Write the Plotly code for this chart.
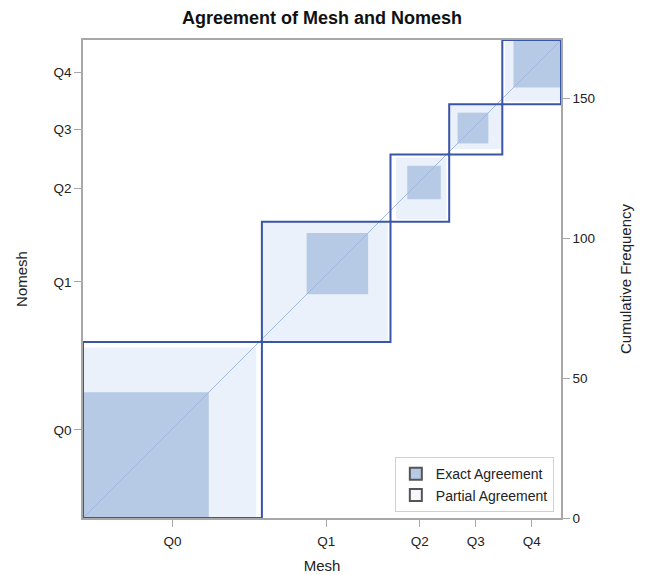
import plotly.graph_objects as go

categories = ["Q0", "Q1", "Q2", "Q3", "Q4"]
# Contingency table: rows = Nomesh category, columns = Mesh category
nomesh_Q0 = [45, 16, 2, 0, 0]
nomesh_Q1 = [17, 22, 4, 0, 0]
nomesh_Q2 = [1, 7, 12, 3, 1]
nomesh_Q3 = [1, 1, 2, 11, 3]
nomesh_Q4 = [0, 0, 1, 5, 17]
freq_ticks = [0, 50, 100, 150]

table = [nomesh_Q0, nomesh_Q1, nomesh_Q2, nomesh_Q3, nomesh_Q4]
k = len(categories)
row_tot = [sum(r) for r in table]
col_tot = [sum(table[r][c] for r in range(k)) for c in range(k)]
N = sum(row_tot)
row_cum = [0]
col_cum = [0]
for i in range(k):
    row_cum.append(row_cum[-1] + row_tot[i])
    col_cum.append(col_cum[-1] + col_tot[i])

EXACT = "#B6CAE5"
PARTIAL = "#EAF1FA"
BOX = "#3A55A6"
DIAG = "#A3B8DF"
AXIS = "#A8A8A8"

shapes = []
# partial agreement (cells differing by one category)
for i in range(k):
    px0 = col_cum[i] + sum(table[r][i] for r in range(0, max(i - 1, 0)))
    px1 = col_cum[i + 1] - sum(table[r][i] for r in range(i + 2, k))
    py0 = row_cum[i] + sum(table[i][c] for c in range(0, max(i - 1, 0)))
    py1 = row_cum[i + 1] - sum(table[i][c] for c in range(i + 2, k))
    shapes.append(dict(type="rect", xref="x", yref="y", x0=px0, x1=px1, y0=py0, y1=py1,
                       fillcolor=PARTIAL, line=dict(width=0), layer="above"))
# exact agreement
for i in range(k):
    ex0 = col_cum[i] + sum(table[r][i] for r in range(i))
    ey0 = row_cum[i] + sum(table[i][c] for c in range(i))
    n = table[i][i]
    shapes.append(dict(type="rect", xref="x", yref="y", x0=ex0, x1=ex0 + n, y0=ey0, y1=ey0 + n,
                       fillcolor=EXACT, line=dict(width=0), layer="above"))
# diagonal reference line
shapes.append(dict(type="line", xref="x", yref="y", x0=0, y0=0, x1=N, y1=N,
                   line=dict(color=DIAG, width=1), layer="above"))
# category boxes
for i in range(k):
    shapes.append(dict(type="rect", xref="x", yref="y", x0=col_cum[i], x1=col_cum[i + 1],
                       y0=row_cum[i], y1=row_cum[i + 1], fillcolor="rgba(0,0,0,0)",
                       line=dict(color=BOX, width=2), layer="above"))

xcent = [(col_cum[i] + col_cum[i + 1]) / 2 for i in range(k)]
ycent = [(row_cum[i] + row_cum[i + 1]) / 2 for i in range(k)]

fig = go.Figure()
fig.add_trace(go.Scatter(x=[None], y=[None], mode="markers", name="Exact Agreement",
                         marker=dict(symbol="square", size=10, color=EXACT,
                                     line=dict(color="#555555", width=1))))
fig.add_trace(go.Scatter(x=[None], y=[None], mode="markers", name="Partial Agreement",
                         marker=dict(symbol="square", size=10, color="#F4F7FB",
                                     line=dict(color="#555555", width=1))))
fig.add_trace(go.Scatter(x=[0, N], y=[0, N], yaxis="y2", mode="lines",
                         line=dict(width=0), hoverinfo="skip", showlegend=False))

font = "Liberation Sans, Arial, sans-serif"
fig.update_layout(
    width=646, height=575,
    margin=dict(l=83, r=85, t=40, b=57),
    paper_bgcolor="white", plot_bgcolor="white",
    font=dict(family=font, size=13.5, color="#222222"),
    title=dict(text="<b>Agreement of Mesh and Nomesh</b>", x=0.5, xref="paper",
               y=0.97, yanchor="middle", font=dict(size=18, color="#111111")),
    shapes=shapes,
    xaxis=dict(range=[0, N], tickmode="array", tickvals=xcent, ticktext=categories,
               showgrid=False, zeroline=False, showline=True, linecolor=AXIS,
               linewidth=1.5, mirror=True, ticks="outside", ticklen=7, tickcolor=AXIS,
               ticklabelstandoff=3, automargin=False,
               title=dict(text="Mesh", standoff=13, font=dict(size=15))),
    yaxis=dict(range=[0, N], tickmode="array", tickvals=ycent, ticktext=categories,
               showgrid=False, zeroline=False, showline=True, linecolor=AXIS,
               linewidth=1.5, ticks="outside", ticklen=7, tickcolor=AXIS, automargin=False,
               title=dict(text="Nomesh", standoff=22, font=dict(size=15))),
    yaxis2=dict(range=[0, N], overlaying="y", side="right", tickmode="array",
                tickvals=freq_ticks, showgrid=False, zeroline=False, showline=True,
                linecolor=AXIS, linewidth=1.5, ticks="outside", ticklen=7,
                tickcolor=AXIS, automargin=False,
                title=dict(text="Cumulative Frequency", standoff=27, font=dict(size=15))),
    legend=dict(x=0.985, y=0.012, xanchor="right", yanchor="bottom", bgcolor="white",
                bordercolor="#D0D0D0", borderwidth=1, font=dict(size=14),
                itemsizing="constant", itemwidth=30, tracegroupgap=0),
    showlegend=True,
)

fig.write_html("out.html", config={"displayModeBar": False},
               post_script="document.body.style.margin='0px';document.body.style.padding='0px';")
